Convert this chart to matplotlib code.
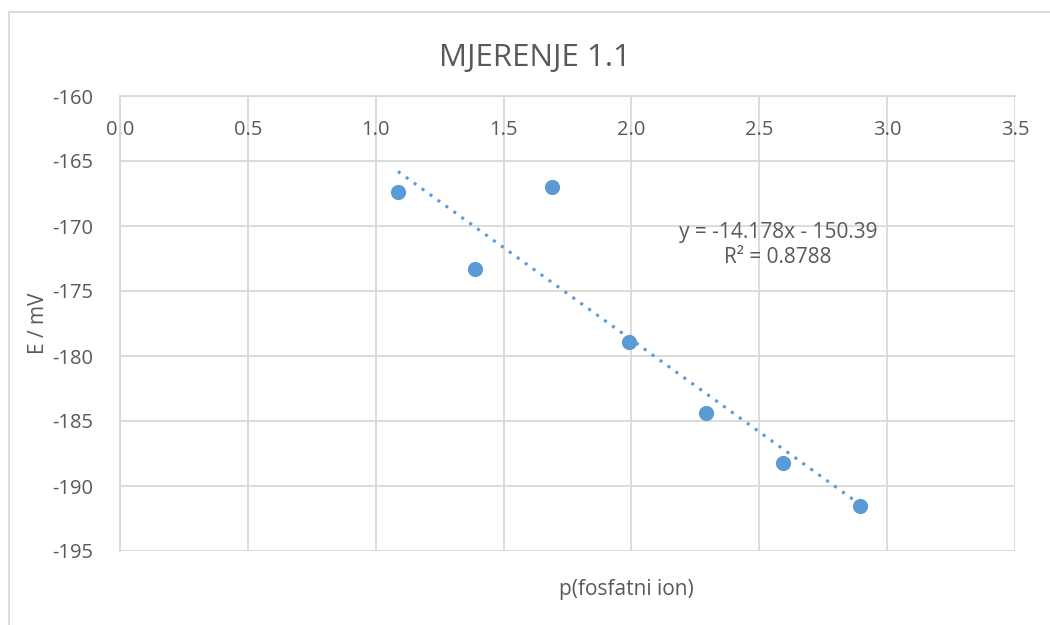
import numpy as np
import matplotlib
matplotlib.use("Agg")
import matplotlib.pyplot as plt
from matplotlib.patches import Rectangle

# data
p_fosfat = [1.087, 1.388, 1.689, 1.990, 2.291, 2.592, 2.893]
E_mV = [-167.4, -173.3, -167.0, -178.9, -184.4, -188.2, -191.5]

# trendline parameters shown on the chart
slope = -14.178
intercept = -150.39
r2 = 0.8788

x_ticks = [0.0, 0.5, 1.0, 1.5, 2.0, 2.5, 3.0, 3.5]
y_ticks = [-160, -165, -170, -175, -180, -185, -190, -195]

plt.rcParams['font.family'] = ['Open Sans', 'DejaVu Sans']
plt.rcParams['axes.unicode_minus'] = False
text_col = '#595959'
grid_col = '#D9D9D9'
blue = '#5B9BD5'

fig = plt.figure(figsize=(10.5, 6.25), dpi=100)
ax = fig.add_axes([120 / 1050, 1 - 551 / 625, 895 / 1050, 455 / 625])

# chart border
fig.patches.append(Rectangle((9 / 1050, -0.1), 1.2, 1 - 12 / 625 + 0.1, transform=fig.transFigure,
                             fill=False, edgecolor=grid_col, linewidth=1.3))

ax.scatter(p_fosfat, E_mV, s=120, color=blue, zorder=3, linewidths=0)

xs = np.array([min(p_fosfat), max(p_fosfat)])
ax.plot(xs, slope * xs + intercept, linestyle=(0, (1, 2.2)), color=blue, linewidth=2.2, zorder=2)

ax.text(2.573, -170.5, "y = -14.178x - 150.39", ha='center', va='center', fontsize=15, color=text_col)
ax.text(2.573, -172.4, "R² = %.4f" % r2, ha='center', va='center', fontsize=15, color=text_col)

ax.set_xlim(0, 3.5)
ax.set_ylim(-195, -160)
ax.set_xticks(x_ticks)
ax.set_xticklabels(["%.1f" % v for v in x_ticks])
ax.set_yticks(y_ticks)

ax.grid(True, color=grid_col, linewidth=1.3)
ax.set_axisbelow(True)
for s in ['right', 'bottom']:
    ax.spines[s].set_visible(False)
for s in ['left', 'top']:
    ax.spines[s].set_color(grid_col)
    ax.spines[s].set_linewidth(1.3)

ax.tick_params(axis='x', top=False, bottom=False, labeltop=True, labelbottom=False,
               pad=-35, labelsize=14.5, labelcolor=text_col)
ax.tick_params(axis='y', left=False, pad=16, labelsize=14.5, labelcolor=text_col)

fig.text(535 / 1050, 1 - 58 / 625, "MJERENJE 1.1", ha='center', va='center', fontsize=22.5, color=text_col)
fig.text(626 / 1050, 1 - 590 / 625, "p(fosfatni ion)", ha='center', va='center', fontsize=15, color=text_col)
fig.text(38 / 1050, 1 - 323 / 625, "E / mV", ha='center', va='center', rotation=90, fontsize=15, color=text_col)

fig.savefig("out.png", dpi=100)
